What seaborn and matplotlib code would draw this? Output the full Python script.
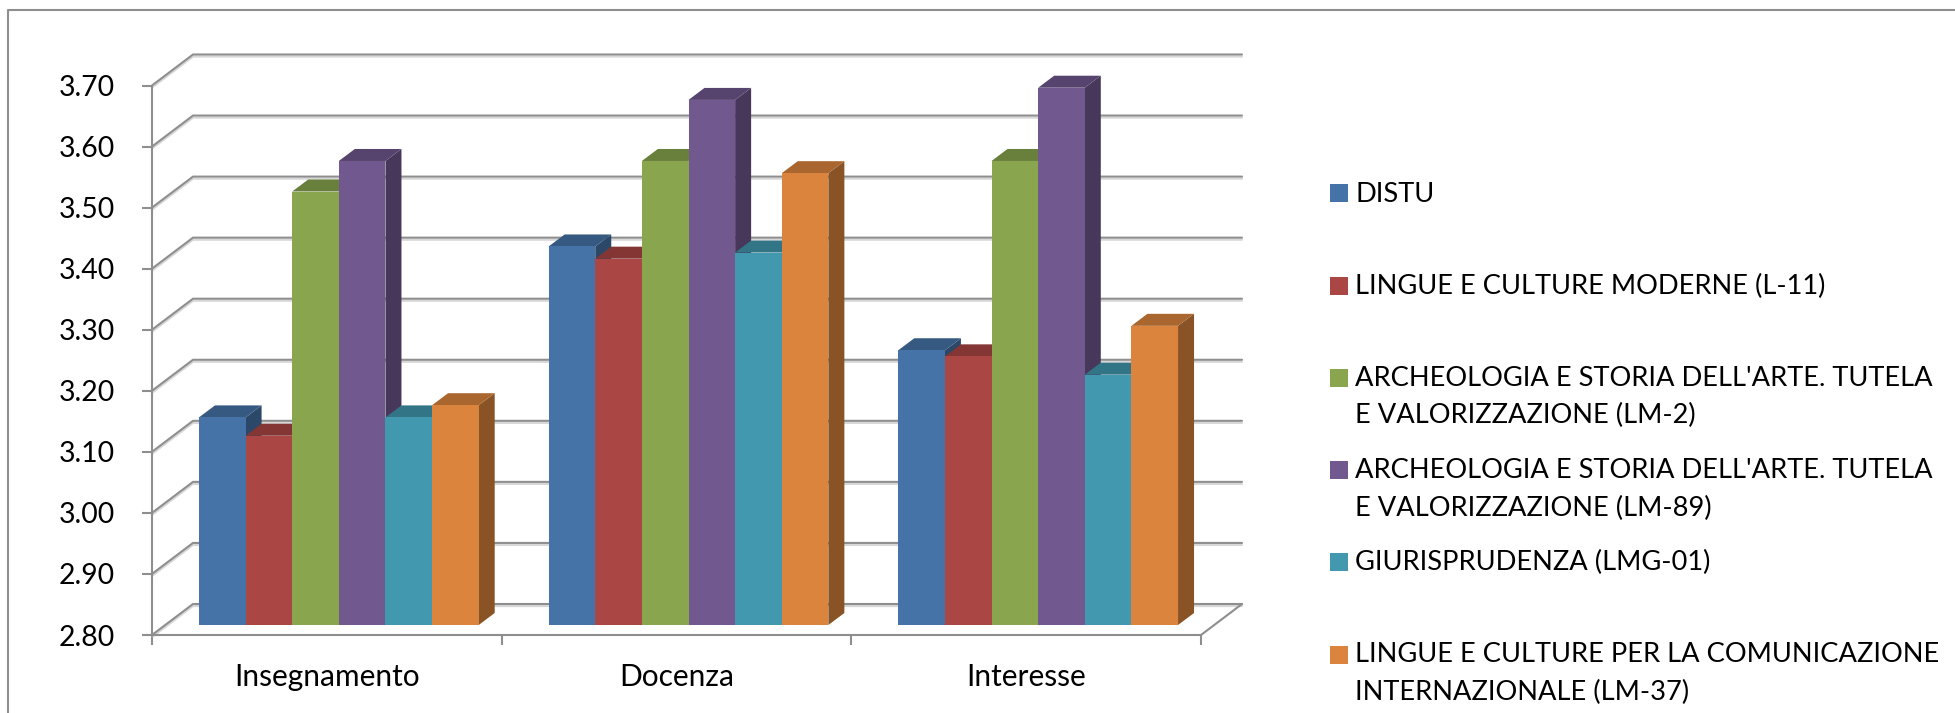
import matplotlib
matplotlib.use('Agg')
import matplotlib.pyplot as plt
import matplotlib.patheffects as pe
from matplotlib.colors import to_rgb
from matplotlib.lines import Line2D
from matplotlib.patches import Polygon, Rectangle
import pandas as pd
import seaborn as sns

# Data
categories = ['Insegnamento', 'Docenza', 'Interesse']
distu = [3.14, 3.42, 3.25]
lingue_l11 = [3.11, 3.40, 3.24]
arch_lm2 = [3.51, 3.56, 3.56]
arch_lm89 = [3.56, 3.66, 3.68]
giur_lmg01 = [3.14, 3.41, 3.21]
lingue_lm37 = [3.16, 3.54, 3.29]

series_names = ['DISTU', 'LINGUE E CULTURE MODERNE (L-11)',
                "ARCHEOLOGIA E STORIA DELL'ARTE. TUTELA\nE VALORIZZAZIONE (LM-2)",
                "ARCHEOLOGIA E STORIA DELL'ARTE. TUTELA\nE VALORIZZAZIONE (LM-89)",
                'GIURISPRUDENZA (LMG-01)',
                'LINGUE E CULTURE PER LA COMUNICAZIONE\nINTERNAZIONALE (LM-37)']
series_values = [distu, lingue_l11, arch_lm2, arch_lm89, giur_lmg01, lingue_lm37]
colors = ['#4573A7', '#AA4644', '#89A54E', '#71588F', '#4198AF', '#DB843D']
y_ticks = [2.8, 2.9, 3.0, 3.1, 3.2, 3.3, 3.4, 3.5, 3.6, 3.7]

W, H = 1955, 713
GREY = '#8E8E8E'

sns.set_style('white')
plt.rcParams['font.family'] = ['Lato', 'DejaVu Sans']

rows = []
for name, vals in zip(series_names, series_values):
    for cat, v in zip(categories, vals):
        rows.append({'category': cat, 'series': name, 'value': v})
df = pd.DataFrame(rows)

fig = plt.figure(figsize=(W / 100, H / 100), dpi=100, facecolor='white')

# front plane of the fake 3D box, in pixels of the reference
ax_left, ax_right, ax_top, ax_bottom = 152, 1201, 85.5, 635


def axes_at(left, right, top, bottom):
    return fig.add_axes([left / W, 1 - bottom / H, (right - left) / W, (bottom - top) / H])


ax = axes_at(ax_left, ax_right, ax_top, ax_bottom)
ax.set_xlim(-0.5, 2.5)
ax.set_ylim(2.8, 3.7)
ax.patch.set_visible(False)

px_x = 3 / (ax_right - ax_left)
px_y = 0.9 / (ax_bottom - ax_top)
wall_dx, wall_dy = 41 * px_x, 31 * px_y

# walls and floor grid
shadow = [pe.SimpleLineShadow(offset=(0, -1.5), shadow_color='#b0b0b0', alpha=0.5), pe.Normal()]
for v in y_ticks:
    ax.plot([-0.5, -0.5 + wall_dx, 2.5 + wall_dx], [v, v + wall_dy, v + wall_dy], color=GREY, lw=1.5,
            clip_on=False, zorder=1, solid_joinstyle='miter', path_effects=shadow)
ax.plot([2.5, 2.5 + wall_dx], [2.8, 2.8 + wall_dy], color=GREY, lw=1.5, clip_on=False, zorder=1)

sns.despine(ax=ax)
ax.spines['left'].set_color(GREY)
ax.spines['bottom'].set_color(GREY)
ax.spines['left'].set_linewidth(1.5)
ax.spines['bottom'].set_linewidth(1.5)

ax.set_yticks(y_ticks)
ax.set_yticklabels(['%.2f' % v for v in y_ticks])
ax.set_xticks([-0.5, 0.5, 1.5, 2.5])
ax.set_xticklabels([])
ax.set_xticks([0, 1, 2], minor=True)
ax.set_xticklabels(categories, minor=True)
ax.tick_params(axis='y', which='major', left=True, length=7, width=1.5, color=GREY, pad=20, labelsize=20.4,
               labelcolor='black')
ax.tick_params(axis='x', which='major', bottom=True, length=7, width=1.5, color=GREY)
ax.tick_params(axis='x', which='minor', bottom=False, length=0, pad=20.5, labelsize=21.5, labelcolor='black')

# bars sit a little behind the front plane, so they get their own shifted axes
shift_x, shift_y = 12, 10
ax_bars = axes_at(ax_left + shift_x, ax_right + shift_x, ax_top - shift_y, ax_bottom - shift_y)
sns.barplot(data=df, x='category', y='value', hue='series', order=categories, hue_order=series_names,
            palette=colors, width=0.8, gap=0, errorbar=None, saturation=1, legend=False, ax=ax_bars,
            linewidth=0)
ax_bars.set_xlim(-0.5, 2.5)
ax_bars.set_ylim(2.8, 3.7)
ax_bars.axis('off')

# top and side of each bar, painted left to right so the next bar covers them
bar_dx, bar_dy = 16 * px_x, 12 * px_y
bars = sorted([p for p in ax_bars.patches if p.get_height() > 0], key=lambda p: p.get_x())
z = 2
for p in bars:
    x0 = p.get_x()
    x1 = x0 + p.get_width()
    top = p.get_height()
    c = to_rgb(p.get_facecolor())
    top_c = tuple(k * 0.77 for k in c)
    side_c = tuple(k * 0.63 for k in c)
    ax_bars.add_patch(Polygon([(x1, 2.8), (x1 + bar_dx, 2.8 + bar_dy), (x1 + bar_dx, top + bar_dy), (x1, top)],
                              closed=True, fc=side_c, ec='none', clip_on=False, zorder=z))
    ax_bars.add_patch(Polygon([(x0, top), (x0 + bar_dx, top + bar_dy), (x1 + bar_dx, top + bar_dy), (x1, top)],
                              closed=True, fc=top_c, ec='none', clip_on=False, zorder=z + 1))
    p.set_zorder(z + 2)
    z += 3

# legend written by hand, the markers are evenly spaced and line up with the first text line
legend_x, legend_y0, legend_step = 1330, 193.5, 92.2
for i, (name, col) in enumerate(zip(series_names, colors)):
    y = legend_y0 + i * legend_step
    fig.add_artist(Rectangle((legend_x / W, 1 - (y + 9) / H), 18 / W, 18 / H, transform=fig.transFigure,
                             fc=col, ec='none'))
    fig.text((legend_x + 25) / W, 1 - (y - 12) / H, name, fontsize=19.6, color='black', va='top', ha='left',
             linespacing=1.62)

# chart frame, cut off at the bottom and right of the picture
fx0, fy = 8 / W, 1 - 10 / H
fig.add_artist(Line2D([fx0, fx0, 1], [0, fy, fy], transform=fig.transFigure, color=GREY, lw=1.5))

fig.savefig('out.png', dpi=100)
